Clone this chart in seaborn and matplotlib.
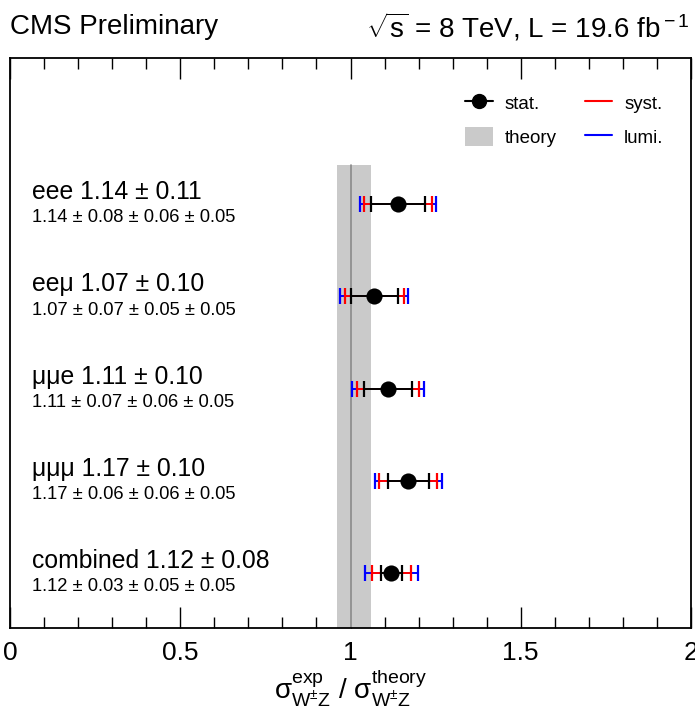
import numpy as np
import pandas as pd
import seaborn as sns
import matplotlib
matplotlib.use("Agg")
import matplotlib.pyplot as plt
from matplotlib.lines import Line2D
from matplotlib.patches import Patch

# ---- data ----
channels = ["eee", "eeμ", "μμe", "μμμ", "combined"]
values = [1.14, 1.07, 1.11, 1.17, 1.12]
stat = [0.08, 0.07, 0.07, 0.06, 0.03]
syst = [0.06, 0.05, 0.06, 0.06, 0.05]
lumi = [0.05, 0.05, 0.05, 0.05, 0.05]
total = [0.11, 0.10, 0.10, 0.10, 0.08]
theory_lo, theory_hi = 0.96, 1.06
xticks = [0, 0.5, 1, 1.5, 2]
xtick_labels = ["0", "0.5", "1", "1.5", "2"]

sns.set_theme(style="white")
plt.rcParams['font.family'] = ['Liberation Sans', 'DejaVu Sans']
plt.rcParams['mathtext.fontset'] = 'custom'
plt.rcParams['mathtext.rm'] = 'Liberation Sans'
plt.rcParams['mathtext.it'] = 'Liberation Sans:italic'
plt.rcParams['mathtext.sf'] = 'Liberation Sans'
plt.rcParams['text.color'] = 'black'
plt.rcParams['axes.labelcolor'] = 'black'
plt.rcParams['xtick.color'] = 'black'
plt.rcParams['xtick.labelcolor'] = 'black'

fig = plt.figure(figsize=(6.95, 7.2), dpi=100)
ax = fig.add_axes([10/695, 1-628/720, 681/695, 570/720])

n = len(channels)
ypos = np.arange(n, 0, -1).astype(float)  # eee at top
v = np.array(values)
st = np.array(stat)
sy = np.array(syst)
lu = np.array(lumi)
err_ss = np.sqrt(st**2 + sy**2)
err_tot = np.sqrt(st**2 + sy**2 + lu**2)

# theory band
band_top = 0.812
ax.axvspan(theory_lo, theory_hi, ymin=0, ymax=band_top, color="#cacaca", lw=0, zorder=1)
ax.axvline(1.0, ymin=0, ymax=band_top, color="#8a8a8a", lw=1.2, zorder=1.5)

# error bars
ax.errorbar(v, ypos, xerr=err_tot, fmt='none', ecolor='blue', elinewidth=1.4,
            capsize=6, capthick=1.6, zorder=3)
ax.errorbar(v, ypos, xerr=err_ss, fmt='none', ecolor='red', elinewidth=1.4,
            capsize=6, capthick=1.6, zorder=4)
ax.errorbar(v, ypos, xerr=st, fmt='none', ecolor='black', elinewidth=1.4,
            capsize=6, capthick=1.6, zorder=5)

df = pd.DataFrame({"value": v, "y": ypos, "channel": channels})
sns.scatterplot(data=df, x="value", y="y", color="black", s=135, marker="o",
                edgecolor="black", linewidth=0, zorder=6, ax=ax, legend=False)

# labels
for ch, val, tot, s1, s2, s3, y in zip(channels, values, total, stat, syst, lumi, ypos):
    ax.text(0.032, y + 0.13, f"{ch} {val:.2f} ± {tot:.2f}",
            transform=ax.get_yaxis_transform(), ha='left', va='center', fontsize=17.8)
    ax.text(0.032, y - 0.15, f"{val:.2f} ± {s1:.2f} ± {s2:.2f} ± {s3:.2f}",
            transform=ax.get_yaxis_transform(), ha='left', va='center', fontsize=13.2)

ax.set_xlim(0, 2)
ax.set_ylim(1 - 55/92.25, 1 + 515/92.25)
ax.set_yticks([])
ax.set_xticks(xticks)
ax.set_xticklabels(xtick_labels, fontsize=19)
ax.set_xticks(np.arange(0, 2.001, 0.1), minor=True)
ax.tick_params(axis='x', which='major', direction='in', length=15, width=1.0,
               top=True, bottom=True, pad=9, colors='black')
ax.tick_params(axis='x', which='minor', direction='in', length=8, width=1.0,
               top=True, bottom=True, colors='black')
ax.set_ylabel("")
for sp in ax.spines.values():
    sp.set_color('black')
    sp.set_linewidth(1.3)

ax.set_xlabel(r"$\mathrm{σ}^{\rm exp}_{\rm W^{\pm}Z}$ / $\mathrm{σ}^{\rm theory}_{\rm W^{\pm}Z}$",
              fontsize=20, labelpad=2)

# legend
handles = [Line2D([], [], color='black', marker='o', markersize=10, lw=1.5),
           Patch(facecolor='#cacaca', edgecolor='none'),
           Line2D([], [], color='red', lw=1.5),
           Line2D([], [], color='blue', lw=1.5)]
labels = ["stat.", "theory", "syst.", "lumi."]
fig.legend(handles, labels, loc='center', bbox_to_anchor=(0.8123, 0.8333),
           ncol=2, frameon=False, fontsize=13.5, handlelength=1.45,
           handleheight=1.2, handletextpad=0.65, columnspacing=1.5, labelspacing=0.7)

# header
fig.text(10/695, 1-27/720, "CMS Preliminary", ha='left', va='center', fontsize=20)
fig.text(690/695, 1-27/720, r"$\sqrt{\rm s}$ = 8 TeV, L = 19.6 fb$^{\rm -1}$",
         ha='right', va='center', fontsize=20)

fig.savefig("out.png", dpi=100)
